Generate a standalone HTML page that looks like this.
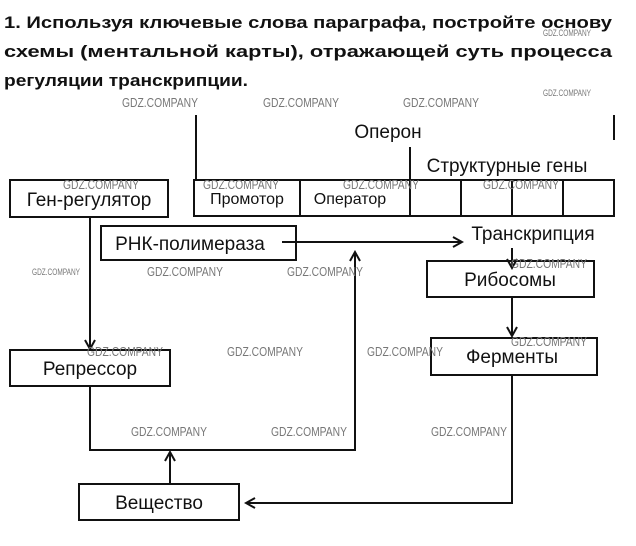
<!DOCTYPE html>
<html><head><meta charset="utf-8"><style>
body{margin:0;background:#fff;width:636px;height:546px;overflow:hidden}
svg{display:block}
.t{font-family:"Liberation Sans","DejaVu Sans",sans-serif;font-size:19px;fill:#111}
.h{font-family:"Liberation Sans","DejaVu Sans",sans-serif;font-size:17px;font-weight:bold;fill:#111}
.w{font-family:"Liberation Sans",sans-serif;font-size:13px;fill:#777;}
</style></head><body>
<svg width="636" height="546" viewBox="0 0 636 546">
<defs><marker id="a" markerWidth="12" markerHeight="12" refX="10" refY="6" orient="auto" markerUnits="userSpaceOnUse"><path d="M1,1 L10,6 L1,11" fill="none" stroke="#111" stroke-width="2"/></marker></defs>
<text class="h" x="4" y="28" textLength="608" lengthAdjust="spacingAndGlyphs">1. Используя ключевые слова параграфа, постройте основу</text>
<text class="h" x="4" y="57" textLength="608" lengthAdjust="spacingAndGlyphs">схемы  (ментальной  карты),  отражающей  суть  процесса</text>
<text class="h" x="4" y="86" textLength="244" lengthAdjust="spacingAndGlyphs">регуляции транскрипции.</text>
<g fill="none" stroke="#111" stroke-width="2">
<path d="M196,115 V180 M614,115 V140 M410,147 V216"/>
<rect x="194" y="180" width="420" height="36"/>
<path d="M300,180V216 M461,180V216 M512,180V216 M563,180V216"/>
<rect x="10" y="180" width="158" height="37"/>
<rect x="101" y="226" width="195" height="34"/>
<rect x="427" y="261" width="167" height="36"/>
<rect x="431" y="338" width="166" height="37"/>
<rect x="10" y="350" width="160" height="36"/>
<rect x="79" y="484" width="160" height="36"/>
<path d="M90,217 V349" marker-end="url(#a)"/>
<path d="M282,242 H462" marker-end="url(#a)"/>
<path d="M512,248 V268" marker-end="url(#a)"/>
<path d="M512,297 V336" marker-end="url(#a)"/>
<path d="M512,375 V503 H246" marker-end="url(#a)"/>
<path d="M90,386 V450 H355 V252" marker-end="url(#a)"/>
<path d="M170,484 V452" marker-end="url(#a)"/>
</g>
<text class="t" x="388" y="138" text-anchor="middle">Оперон</text>
<text class="t" x="507" y="172" text-anchor="middle">Структурные гены</text>
<text class="t" x="89" y="206" text-anchor="middle">Ген-регулятор</text>
<text class="t" x="247" y="204" text-anchor="middle" style="font-size:16px">Промотор</text>
<text class="t" x="350" y="204" text-anchor="middle" style="font-size:16px">Оператор</text>
<text class="t" x="190" y="250" text-anchor="middle">РНК-полимераза</text>
<text class="t" x="533" y="240" text-anchor="middle">Транскрипция</text>
<text class="t" x="510" y="286" text-anchor="middle">Рибосомы</text>
<text class="t" x="512" y="363" text-anchor="middle">Ферменты</text>
<text class="t" x="90" y="375" text-anchor="middle">Репрессор</text>
<text class="t" x="159" y="509" text-anchor="middle">Вещество</text>
<g class="w" lengthAdjust="spacingAndGlyphs">
<text x="122" y="107" textLength="76" lengthAdjust="spacingAndGlyphs">GDZ.COMPANY</text><text x="263" y="107" textLength="76" lengthAdjust="spacingAndGlyphs">GDZ.COMPANY</text><text x="403" y="107" textLength="76" lengthAdjust="spacingAndGlyphs">GDZ.COMPANY</text>
<text x="63" y="189" textLength="76" lengthAdjust="spacingAndGlyphs">GDZ.COMPANY</text><text x="203" y="189" textLength="76" lengthAdjust="spacingAndGlyphs">GDZ.COMPANY</text><text x="343" y="189" textLength="76" lengthAdjust="spacingAndGlyphs">GDZ.COMPANY</text><text x="483" y="189" textLength="76" lengthAdjust="spacingAndGlyphs">GDZ.COMPANY</text>
<text x="147" y="276" textLength="76" lengthAdjust="spacingAndGlyphs">GDZ.COMPANY</text><text x="287" y="276" textLength="76" lengthAdjust="spacingAndGlyphs">GDZ.COMPANY</text><text x="511" y="268" textLength="76" lengthAdjust="spacingAndGlyphs">GDZ.COMPANY</text>
<text x="87" y="356" textLength="76" lengthAdjust="spacingAndGlyphs">GDZ.COMPANY</text><text x="227" y="356" textLength="76" lengthAdjust="spacingAndGlyphs">GDZ.COMPANY</text><text x="367" y="356" textLength="76" lengthAdjust="spacingAndGlyphs">GDZ.COMPANY</text><text x="511" y="346" textLength="76" lengthAdjust="spacingAndGlyphs">GDZ.COMPANY</text>
<text x="131" y="436" textLength="76" lengthAdjust="spacingAndGlyphs">GDZ.COMPANY</text><text x="271" y="436" textLength="76" lengthAdjust="spacingAndGlyphs">GDZ.COMPANY</text><text x="431" y="436" textLength="76" lengthAdjust="spacingAndGlyphs">GDZ.COMPANY</text>
<text x="32" y="275" style="font-size:9px" textLength="48" lengthAdjust="spacingAndGlyphs">GDZ.COMPANY</text><text x="543" y="96" style="font-size:9px" textLength="48" lengthAdjust="spacingAndGlyphs">GDZ.COMPANY</text><text x="543" y="36" style="font-size:9px" textLength="48" lengthAdjust="spacingAndGlyphs">GDZ.COMPANY</text>
</g>
</svg>
</body></html>
